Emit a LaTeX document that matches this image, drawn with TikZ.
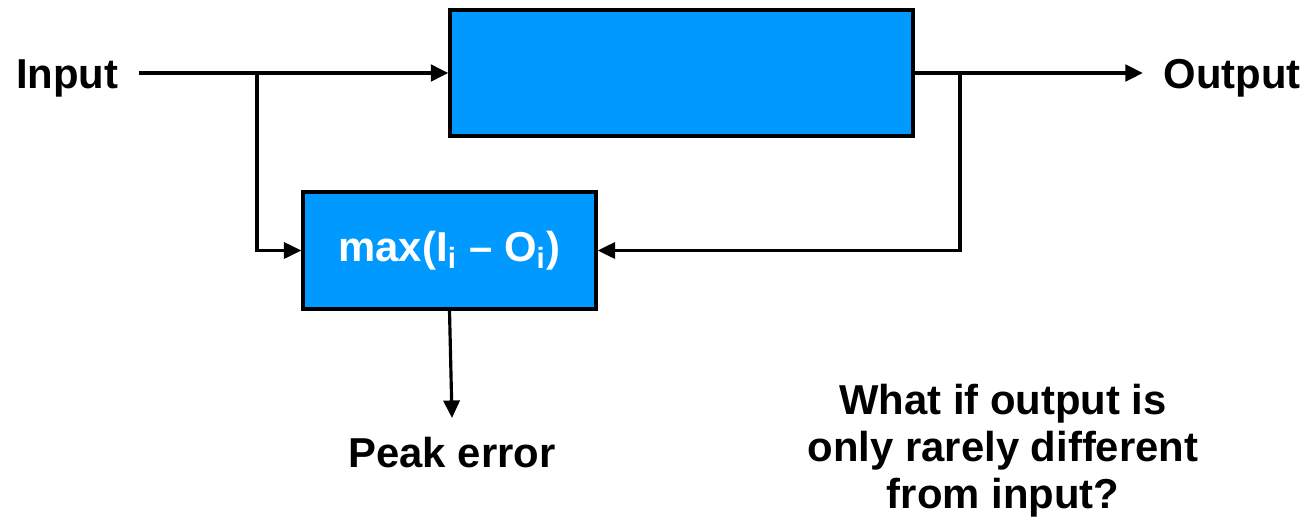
\documentclass[tikz,border=0pt]{standalone}
\usepackage{fontspec}
\setmainfont{Liberation Sans}
\usepackage{xcolor}
\usetikzlibrary{arrows.meta}
\definecolor{blockc}{HTML}{0099FF}
\tikzset{
  block/.style={draw=black, fill=blockc, line width=0.9pt, inner sep=0pt},
  lbl/.style={font=\fontsize{11.9pt}{13.4pt}\selectfont\bfseries},
  mainline/.style={line width=1.2pt, -{Triangle[length=5pt,width=4.6pt]}},
  fbline/.style={line width=0.9pt, -{Triangle[length=5pt,width=4.6pt]}},
}
\begin{document}
\begin{tikzpicture}
\useasboundingbox (0,0) rectangle (13.11,-5.25);
\node[block, minimum width=4.63cm, minimum height=1.26cm] (sys) at (6.815,-0.73) {};
\node[block, minimum width=2.93cm, minimum height=1.17cm, lbl, text=white] (err) at (4.495,-2.505) {max(I\textsubscript{i} – O\textsubscript{i})};
\node[lbl, anchor=east, inner sep=0pt] (in) at (1.19,-0.78) {Input};
\node[lbl, anchor=west, inner sep=0pt] (out) at (11.63,-0.78) {Output};
\node[lbl, anchor=north, inner sep=0pt] (peak) at (4.52,-4.36) {Peak error};
\node[lbl, align=center, inner sep=0pt] (q) at (10.03,-4.51) {What if output is\\only rarely different\\from input?};
\coordinate (sp1) at (2.57,-0.73);
\coordinate (sp2) at (9.60,-0.73);
\draw[mainline] ([xshift=2.0mm]in.east |- sys.west) -- (sys.west);
\draw[mainline] (sys.east) -- ([xshift=-2.0mm]out.west |- sys.east);
\draw[fbline] (sp1) |- (err.west);
\draw[fbline] (sp2) |- (err.east);
\draw[fbline] (err.south) -- ([yshift=1.8mm]peak.north);
\end{tikzpicture}
\end{document}
